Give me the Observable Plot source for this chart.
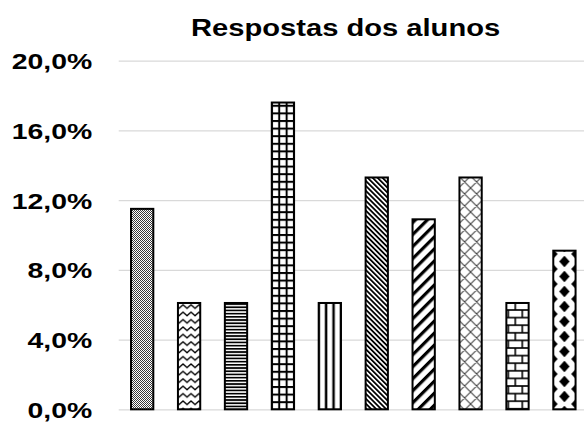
<!DOCTYPE html>
<html>
<head>
<meta charset="utf-8">
<script src="https://cdn.jsdelivr.net/npm/d3@7"></script>
<script src="https://cdn.jsdelivr.net/npm/@observablehq/plot@0.6"></script>
<style>
  body { margin: 0; background: #fff; font-family: "Liberation Sans", Arial, sans-serif; }
  #grafico { position: relative; width: 584px; height: 423px; overflow: hidden; }
  #titulo { height: 44px; box-sizing: border-box; padding-top: 14px; line-height: 28px;
            font-size: 24.7px; font-weight: bold; white-space: nowrap; color: #000; }
  #titulo span { display: inline-block; margin-left: 191px; transform-origin: 0 50%; transform: scaleX(1.18); }
</style>
</head>
<body>
<svg id="texturas" width="0" height="0" style="position:absolute"><defs></defs></svg>
<div id="grafico">
  <div id="titulo"><span>Respostas dos alunos</span></div>
</div>
<script>
// Respostas (percentual de alunos por alternativa)
const categorias = ["R1", "R2", "R3", "R4", "R5", "R6", "R7", "R8", "R9", "R10"];
const percentuais = [11.5, 6.1, 6.1, 17.6, 6.1, 13.3, 10.9, 13.3, 6.1, 9.1];
const ticksY = [0, 4, 8, 12, 16, 20];

// Texturas de preenchimento, uma por barra
const texturas = [
  { w: 2, h: 2, pixel: true, draw: g => {
      g.append("rect").attr("width", 1).attr("height", 1).attr("fill", "#3a3a3a");
      g.append("rect").attr("x", 1).attr("y", 1).attr("width", 1).attr("height", 1).attr("fill", "#3a3a3a");
    } },
  { w: 8, h: 7.4, draw: g => {
      g.append("path").attr("d", "M-2,5.3 L2,1.8 L6,5.3 L10,1.8").attr("fill", "none")
        .attr("stroke", "#000").attr("stroke-width", 1.4);
    } },
  { w: 4, h: 3.2, draw: g => {
      g.append("rect").attr("width", 4).attr("height", 1.7).attr("fill", "#000");
    } },
  { w: 7.4, h: 7.6, draw: g => {
      g.append("rect").attr("x", 2.7).attr("width", 2).attr("height", 7.6).attr("fill", "#000");
      g.append("rect").attr("y", 0).attr("width", 7.4).attr("height", 2).attr("fill", "#000");
    } },
  { w: 7.45, h: 4, draw: g => {
      g.append("rect").attr("x", 2.47).attr("width", 2.5).attr("height", 4).attr("fill", "#000");
    } },
  { w: 3.5, h: 4, rot: -45, draw: g => {
      g.append("rect").attr("width", 1.8).attr("height", 4).attr("fill", "#000");
    } },
  { w: 8.5, h: 4, rot: 45, draw: g => {
      g.append("rect").attr("width", 3.2).attr("height", 4).attr("fill", "#000");
    } },
  { w: 12, h: 12, draw: g => {
      g.append("path").attr("d", "M0,0 L12,12 M12,0 L0,12 M-1,11 L1,13 M11,-1 L13,1 M-1,1 L1,-1 M11,13 L13,11")
        .attr("fill", "none").attr("stroke", "#444").attr("stroke-width", 1.1);
    } },
  { w: 14, h: 15.2, draw: g => {
      g.append("rect").attr("y", -0.8).attr("width", 14).attr("height", 1.6).attr("fill", "#000");
      g.append("rect").attr("y", 6.8).attr("width", 14).attr("height", 1.6).attr("fill", "#000");
      g.append("rect").attr("y", 14.4).attr("width", 14).attr("height", 1.6).attr("fill", "#000");
      g.append("rect").attr("x", -0.8).attr("width", 1.6).attr("height", 7.6).attr("fill", "#000");
      g.append("rect").attr("x", 13.2).attr("width", 1.6).attr("height", 7.6).attr("fill", "#000");
      g.append("rect").attr("x", 6.2).attr("y", 7.6).attr("width", 1.6).attr("height", 7.6).attr("fill", "#000");
    }, dx: -2.2 },
  { w: 24, h: 15, draw: g => {
      const losango = (cx, cy) => `M${cx},${cy - 5.8} L${cx + 5.2},${cy} L${cx},${cy + 5.8} L${cx - 5.2},${cy} Z`;
      g.append("path").attr("d", [losango(0, 0), losango(24, 0), losango(0, 15), losango(24, 15), losango(12, 7.5)].join(" "))
        .attr("fill", "#000");
    }, dx: -12 }
];

const defs = d3.select("#texturas defs");
texturas.forEach((t, i) => {
  const p = defs.append("pattern")
    .attr("id", `textura${i + 1}`)
    .attr("patternUnits", "userSpaceOnUse")
    .attr("width", t.w).attr("height", t.h);
  if (t.rot) p.attr("patternTransform", `rotate(${t.rot})`);
  p.append("rect").attr("width", t.w).attr("height", t.h).attr("fill", "#fff");
  t.draw(p);
});

const dados = categorias.map((c, i) => ({ categoria: c, valor: percentuais[i], textura: `url(#textura${i + 1})` }));
const formato = d => d.toFixed(1).replace(".", ",") + "%";

const chart = Plot.plot({
  width: 584,
  height: 379,
  marginLeft: 118.7,
  marginRight: 0,
  marginTop: 16.7,
  marginBottom: 13.7,
  style: { fontFamily: "'Liberation Sans', Arial, sans-serif", background: "#fff", color: "#000" },
  x: { domain: categorias, range: [106.4, 600.2], padding: 0.525, round: false, axis: null },
  y: { domain: [0, 20] },
  color: { type: "identity" },
  marks: [
    Plot.gridY(ticksY, { stroke: "#d9d9d9", strokeOpacity: 1, strokeWidth: 1.2 }),
    Plot.axisY(ticksY, { tickSize: 0, tickPadding: 27, tickFormat: formato, fontSize: 22,
                         fontWeight: "bold", fill: "#000", dy: 1, label: null }),
    Plot.barY(dados, { x: "categoria", y: "valor", fill: "textura", stroke: "#000", strokeWidth: 2 })
  ]
});

document.getElementById("grafico").appendChild(chart);

// Alinha cada textura ao centro da sua barra
const xs = chart.scale("x");
texturas.forEach((t, i) => {
  if (t.rot) return;
  let centro = xs.apply(categorias[i]) + xs.bandwidth / 2 + (t.dx || 0);
  if (t.pixel) centro = Math.round(centro);
  d3.select(`#textura${i + 1}`).attr("x", centro);
});

// Rótulos do eixo com a largura esticada da fonte original
chart.querySelectorAll('g[aria-label="y-axis tick label"] text').forEach(el => {
  const largura = el.getComputedTextLength();
  el.setAttribute("textLength", largura * 1.29);
  el.setAttribute("lengthAdjust", "spacingAndGlyphs");
});
</script>
</body>
</html>
